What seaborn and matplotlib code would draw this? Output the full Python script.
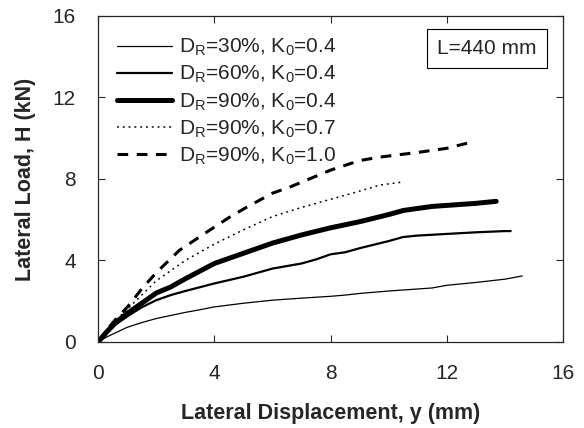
import pandas as pd
import matplotlib
matplotlib.use("Agg")
import matplotlib.pyplot as plt
import seaborn as sns

x_30_04 = [0, 0.3, 0.6, 1, 1.5, 2, 2.5, 3, 3.5, 4, 5, 6, 7, 8, 8.5, 9, 10, 11, 11.5, 12, 12.5, 13, 14, 14.6]
h_30_04 = [0, 0.25, 0.45, 0.72, 0.95, 1.15, 1.3, 1.45, 1.58, 1.72, 1.9, 2.05, 2.15, 2.24, 2.3, 2.38, 2.5, 2.6, 2.65, 2.78, 2.85, 2.92, 3.08, 3.24]

x_60_04 = [0, 0.3, 0.6, 1, 1.5, 2, 2.5, 3, 4, 5, 6, 7, 7.5, 8, 8.5, 9, 10, 10.5, 11, 12, 13, 14, 14.2]
h_60_04 = [0, 0.45, 0.85, 1.25, 1.7, 2.05, 2.3, 2.5, 2.87, 3.2, 3.6, 3.85, 4.05, 4.3, 4.4, 4.6, 4.95, 5.15, 5.22, 5.3, 5.38, 5.44, 5.44]

x_90_04 = [0, 0.3, 0.6, 1, 1.5, 2, 2.5, 3, 4, 5, 6, 7, 8, 9, 10, 10.5, 11, 11.5, 12, 13, 13.7]
h_90_04 = [0, 0.5, 0.95, 1.4, 1.9, 2.4, 2.7, 3.1, 3.85, 4.35, 4.85, 5.25, 5.6, 5.9, 6.25, 6.45, 6.55, 6.65, 6.7, 6.8, 6.9]

x_90_07 = [0, 0.3, 0.6, 1, 1.5, 2, 2.5, 3, 4, 5, 6, 7, 8, 9, 9.7, 10.5]
h_90_07 = [0, 0.6, 1.05, 1.6, 2.3, 3.0, 3.5, 4.0, 4.8, 5.5, 6.15, 6.6, 7.0, 7.4, 7.7, 7.85]

x_90_10 = [0, 0.3, 0.6, 1, 1.5, 2, 2.8, 3.75, 4.5, 5.1, 6, 6.6, 8, 9, 9.7, 11, 12, 12.7]
h_90_10 = [0, 0.6, 1.1, 1.7, 2.6, 3.4, 4.5, 5.4, 6.1, 6.6, 7.3, 7.6, 8.43, 8.9, 9.07, 9.3, 9.5, 9.75]

labels = [r"D$_\mathrm{R}$=30%, K$_0$=0.4",
          r"D$_\mathrm{R}$=60%, K$_0$=0.4",
          r"D$_\mathrm{R}$=90%, K$_0$=0.4",
          r"D$_\mathrm{R}$=90%, K$_0$=0.7",
          r"D$_\mathrm{R}$=90%, K$_0$=1.0"]
ticks = [0, 4, 8, 12, 16]

sns.set_style("ticks")
plt.rcParams["font.family"] = ["Liberation Sans", "DejaVu Sans"]
plt.rcParams["mathtext.fontset"] = "custom"
plt.rcParams["mathtext.rm"] = "Liberation Sans"
plt.rcParams["mathtext.it"] = "Liberation Sans:italic"

fig = plt.figure(figsize=(5.84, 4.28), dpi=100)
ax = fig.add_axes([0.168, 0.201, 0.796, 0.762])

series = [(x_30_04, h_30_04, 0.9, "-"),
          (x_60_04, h_60_04, 1.6, "-"),
          (x_90_04, h_90_04, 3.6, "-"),
          (x_90_07, h_90_07, 1.1, (0, (1.2, 2.6))),
          (x_90_10, h_90_10, 2.2, (0, (3.5, 2.8)))]

for (xs, hs, lw, ls), lab in zip(series, labels):
    df = pd.DataFrame({"y": xs, "H": hs})
    sns.lineplot(data=df, x="y", y="H", ax=ax, color="black", lw=lw,
                 linestyle=ls, label=lab, sort=False, estimator=None)

ax.set_xlim(0, 16)
ax.set_ylim(0, 16)
ax.set_xticks(ticks)
ax.set_yticks(ticks)
ax.tick_params(direction="in", length=5, width=0.8, labelsize=15, pad=16,
               top=True, right=True)
for s in ax.spines.values():
    s.set_linewidth(0.9)

ax.set_xlabel("Lateral Displacement, y (mm)", fontsize=15.5, fontweight="bold", labelpad=14)
ax.set_ylabel("Lateral Load, H (kN)", fontsize=15.5, fontweight="bold", labelpad=12)

leg = ax.legend(loc="upper left", frameon=False, fontsize=15, handlelength=2.6,
                handletextpad=0.35, labelspacing=0.28, borderaxespad=0.3,
                bbox_to_anchor=(0.01, 0.98))

ax.text(0.837, 0.90, "L=440 mm", transform=ax.transAxes, ha="center", va="center",
        fontsize=15, bbox=dict(boxstyle="square,pad=0.5", fc="white", ec="black", lw=0.8))

fig.savefig("out.png", dpi=100)
